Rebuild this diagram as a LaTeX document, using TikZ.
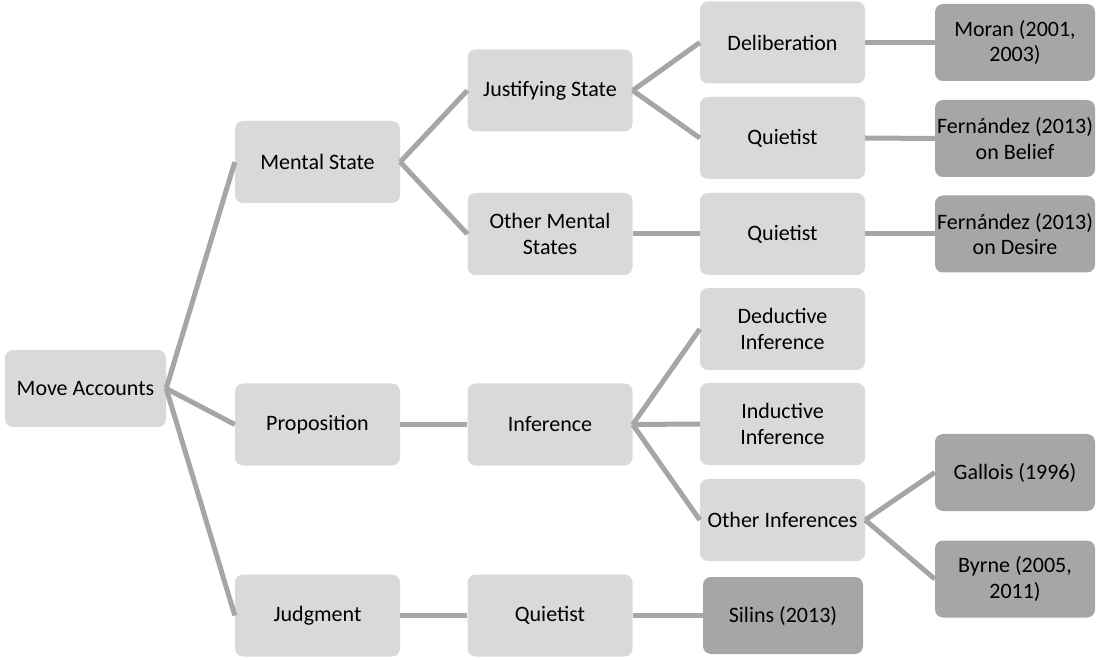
\documentclass[tikz,border=0pt]{standalone}
\usepackage{fontspec}
\setmainfont{Carlito}
\begin{document}
\begin{tikzpicture}[x=1pt,y=-1pt,
  font=\fontsize{22}{25.5}\selectfont,
  base/.style={rounded corners=8pt, align=center, inner sep=0pt, text=black},
  lightbox/.style={base, fill=boxlight, minimum width=165pt, minimum height=82pt},
  leafbox/.style={base, fill=boxdark, minimum width=160pt, minimum height=77pt},
  rootbox/.style={base, fill=boxlight, minimum width=161pt, minimum height=77pt},
  link/.style={draw=linkgray, line width=5pt}]
\definecolor{boxlight}{HTML}{D9D9D9}
\definecolor{boxdark}{HTML}{A6A6A6}
\definecolor{linkgray}{HTML}{A6A6A6}
\useasboundingbox (0,0) rectangle (1096,660);

% root
\node[rootbox] (ma) at (85.5,388.5) {Move Accounts};

% first level
\node[lightbox] (ms) at (317.5,162) {Mental State};
\node[lightbox] (pr) at (317.5,424.5) {Proposition};
\node[lightbox] (ju) at (317.5,615.5) {Judgment};

% second level
\node[lightbox] (js) at (550,90.5) {Justifying State};
\node[lightbox] (om) at (550,234) {Other Mental\\States};
\node[lightbox] (inf) at (550,424.5) {Inference};
\node[lightbox] (q3) at (550,615.5) {Quietist};

% third level
\node[lightbox] (de) at (782.5,42.5) {Deliberation};
\node[lightbox] (q1) at (782.5,138) {Quietist};
\node[lightbox] (q2) at (782.5,234) {Quietist};
\node[lightbox] (dd) at (782.5,329) {Deductive\\Inference};
\node[lightbox] (id) at (782.5,424) {Inductive\\Inference};
\node[lightbox] (oi) at (782.5,520) {Other Inferences};
\node[leafbox] (si) at (783,615.5) {Silins (2013)};

% references
\node[leafbox] (mo) at (1015,42.5) {Moran (2001,\\2003)};
\node[leafbox] (fb) at (1015,138.5) {Fernández (2013)\\on Belief};
\node[leafbox] (fd) at (1015,234) {Fernández (2013)\\on Desire};
\node[leafbox] (ga) at (1015,472.5) {Gallois (1996)};
\node[leafbox] (by) at (1015,579) {Byrne (2005,\\2011)};

% connectors
\path[link] (ma.east) -- (ms.west);
\path[link] (ma.east) -- (pr.west);
\path[link] (ma.east) -- (ju.west);
\path[link] (ms.east) -- (js.west);
\path[link] (ms.east) -- (om.west);
\path[link] (pr.east) -- (inf.west);
\path[link] (ju.east) -- (q3.west);
\path[link] (js.east) -- (de.west);
\path[link] (js.east) -- (q1.west);
\path[link] (om.east) -- (q2.west);
\path[link] (inf.east) -- (dd.west);
\path[link] (inf.east) -- (id.west);
\path[link] (inf.east) -- (oi.west);
\path[link] (q3.east) -- (si.west);
\path[link] (de.east) -- (mo.west);
\path[link] (q1.east) -- (fb.west);
\path[link] (q2.east) -- (fd.west);
\path[link] (oi.east) -- (ga.west);
\path[link] (oi.east) -- (by.west);
\end{tikzpicture}
\end{document}
